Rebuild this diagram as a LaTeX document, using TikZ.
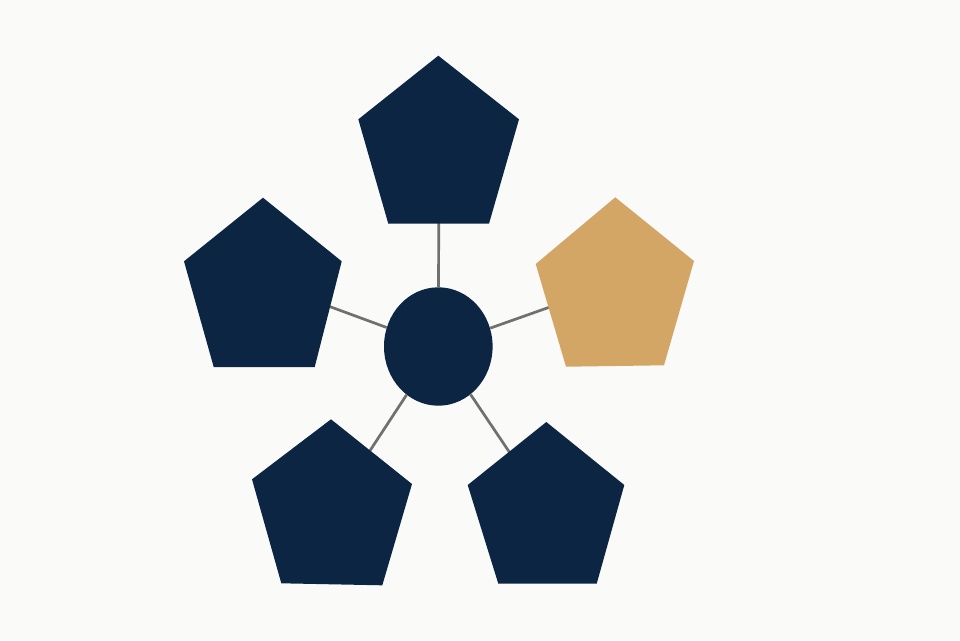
\documentclass[tikz,border=0pt]{standalone}
\usetikzlibrary{shapes.geometric}
\definecolor{navy}{RGB}{11,37,66}
\definecolor{gold}{RGB}{212,166,101}
\definecolor{bg}{RGB}{250,250,248}
\definecolor{linkgray}{RGB}{112,112,112}
\tikzset{
  navyshape/.style={fill=navy},
  goldshape/.style={fill=gold},
  link/.style={draw=linkgray, line width=2.7pt},
}
\begin{document}
\begin{tikzpicture}[x=1pt,y=-1pt]
\fill[bg] (0,0) rectangle (960,640);
\useasboundingbox (0,0) rectangle (960,640);
% pentagon centres (connector ends)
\coordinate (ptop) at (439,150);
\coordinate (pleft) at (263,282);
\coordinate (pright) at (615,284);
\coordinate (pbl) at (337.6,500);
\coordinate (pbr) at (541.6,500);
% hub
\node[ellipse, navyshape, minimum width=108.6pt, minimum height=118.4pt, inner sep=0pt] (hub) at (438.3,346.5) {};
% connectors
\draw[link] (hub) -- (ptop);
\draw[link] (hub) -- (pleft);
\draw[link] (hub) -- (pright);
\draw[link] (hub) -- (pbl);
\draw[link] (hub) -- (pbr);
% pentagons
\fill[navyshape] (438.3,55.7) -- (519,119.3) -- (489,223.7) -- (388.3,223.7) -- (358.3,119.3) -- cycle;
\fill[navyshape] (263,197.7) -- (341.7,261.3) -- (314.7,367) -- (213.7,367) -- (184,261.3) -- cycle;
\fill[goldshape] (615.3,197.3) -- (694,261) -- (664,365.3) -- (566,366.7) -- (535.7,264) -- cycle;
\fill[navyshape] (331,419.3) -- (412,484) -- (382.3,585.3) -- (281.3,583.3) -- (252,479.3) -- cycle;
\fill[navyshape] (546.3,422) -- (624.3,485) -- (596.7,583.7) -- (498.3,583.7) -- (467.7,485) -- cycle;
\end{tikzpicture}
\end{document}
